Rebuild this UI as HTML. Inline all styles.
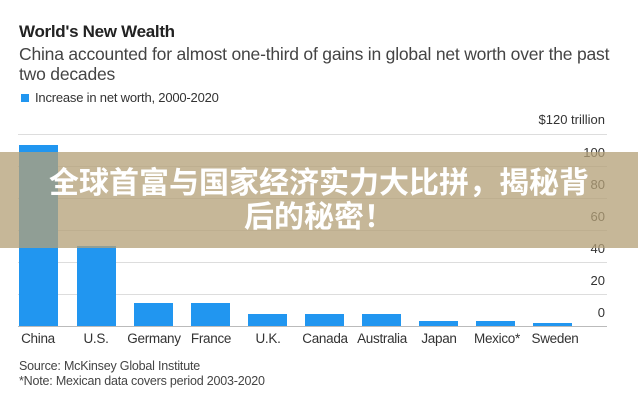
<!DOCTYPE html>
<html><head><meta charset="utf-8"><style>
body{margin:0;width:638px;height:400px;background:#fff;position:relative;overflow:hidden;font-family:"Liberation Sans",sans-serif;color:#222}
.a{position:absolute;white-space:nowrap}
.g{position:absolute;left:18px;width:589px;height:1px;background:#ddd}
.b{position:absolute;background:#2196f0;width:39px}
.yl{position:absolute;right:33px;font-size:13px;color:#333}
.xl{position:absolute;top:331px;font-size:13.5px;color:#333;width:60px;text-align:center;letter-spacing:-0.3px}
</style></head><body>
<div class="a" style="left:19px;top:22px;font-size:17px;font-weight:bold;letter-spacing:-0.3px">World's New Wealth</div>
<div class="a" style="left:19px;top:44px;font-size:17.5px;color:#444;line-height:20px;letter-spacing:-0.2px">China accounted for almost one-third of gains in global net worth over the past<br>two decades</div>
<div class="a" style="left:21px;top:94px;width:8px;height:8px;background:#2196f0"></div>
<div class="a" style="left:35px;top:90px;font-size:13px;color:#333;letter-spacing:-0.2px">Increase in net worth, 2000-2020</div>
<div class="a" style="right:33px;top:112px;font-size:13px;color:#333">$120 trillion</div>
<div class="g" style="top:134px"></div>
<div class="g" style="top:166px"></div>
<div class="g" style="top:198px"></div>
<div class="g" style="top:230px"></div>
<div class="g" style="top:262px"></div>
<div class="g" style="top:294px"></div>
<div class="yl" style="top:145px">100</div>
<div class="yl" style="top:177px">80</div>
<div class="yl" style="top:209px">60</div>
<div class="yl" style="top:241px">40</div>
<div class="yl" style="top:273px">20</div>
<div class="yl" style="top:305px">0</div>
<div class="b" style="left:19px;top:145px;height:181px"></div>
<div class="b" style="left:77px;top:246px;height:80px"></div>
<div class="b" style="left:134px;top:303px;height:23px"></div>
<div class="b" style="left:191px;top:303px;height:23px"></div>
<div class="b" style="left:248px;top:314px;height:12px"></div>
<div class="b" style="left:305px;top:314px;height:12px"></div>
<div class="b" style="left:362px;top:314px;height:12px"></div>
<div class="b" style="left:419px;top:321px;height:5px"></div>
<div class="b" style="left:476px;top:321px;height:5px"></div>
<div class="b" style="left:533px;top:323px;height:3px"></div>
<div class="g" style="top:326px;background:#bbb"></div>
<div class="xl" style="left:8px">China</div>
<div class="xl" style="left:66px">U.S.</div>
<div class="xl" style="left:124px">Germany</div>
<div class="xl" style="left:181px">France</div>
<div class="xl" style="left:238px">U.K.</div>
<div class="xl" style="left:295px">Canada</div>
<div class="xl" style="left:352px">Australia</div>
<div class="xl" style="left:409px">Japan</div>
<div class="xl" style="left:467px">Mexico*</div>
<div class="xl" style="left:525px">Sweden</div>
<div class="a" style="left:19px;top:359px;font-size:12.5px;color:#444;line-height:15px;letter-spacing:-0.2px">Source: McKinsey Global Institute<br>*Note: Mexican data covers period 2003-2020</div>
<div class="a" style="left:0;top:152px;width:638px;height:96px;background:rgba(180,160,120,0.76)"></div>
<div class="a" style="left:0;top:167px;width:638px;text-align:center;color:#fff;font-weight:bold;font-size:30px;line-height:34px;font-family:'Liberation Sans','Noto Sans CJK SC',sans-serif">全球首富与国家经济实力大比拼，揭秘背<br>后的秘密！</div>
</body></html>
